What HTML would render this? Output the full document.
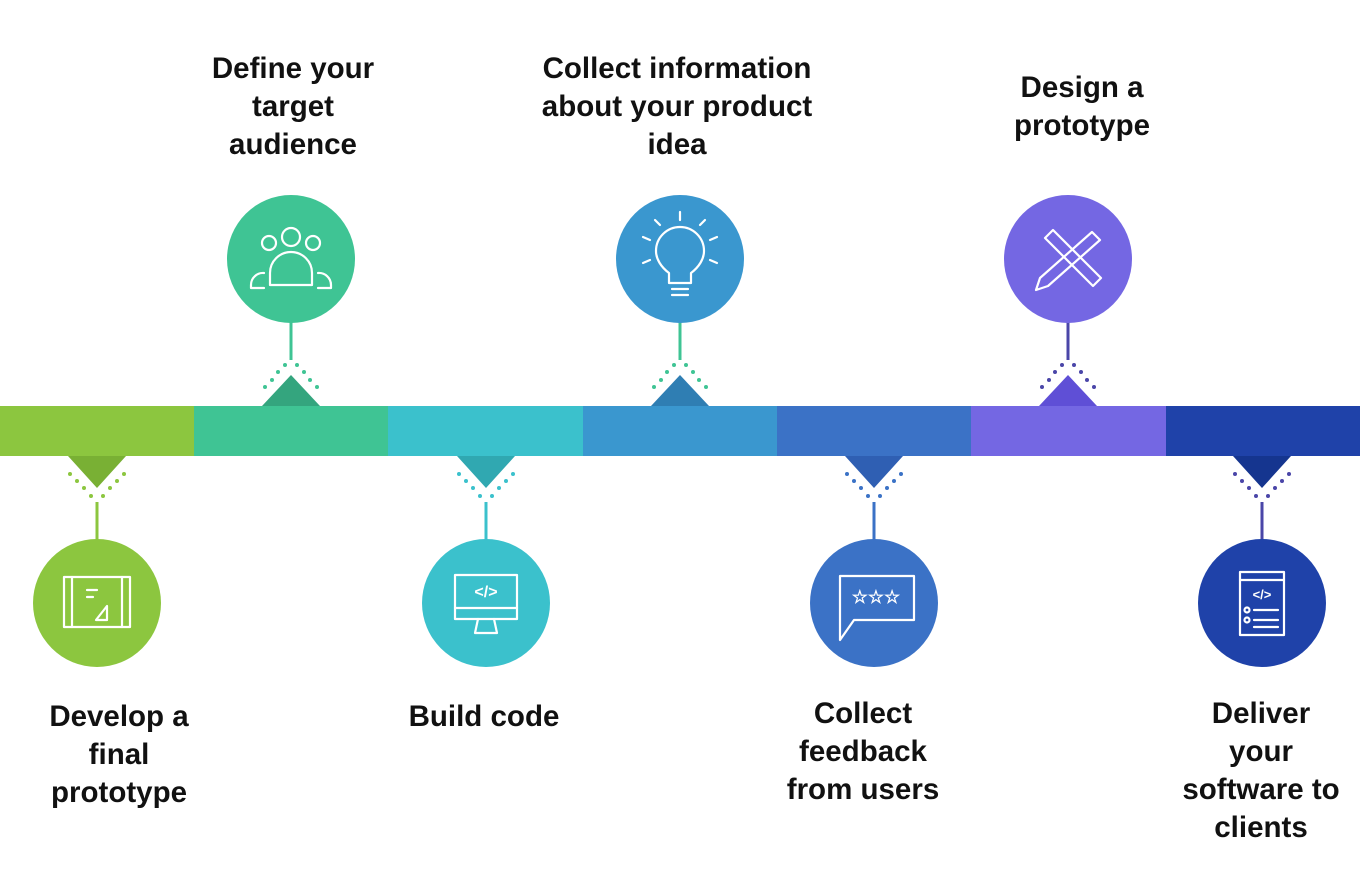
<!DOCTYPE html>
<html><head><meta charset="utf-8"><style>
html,body{margin:0;padding:0;background:#fff}
svg{display:block}
text{font-family:"Liberation Sans",sans-serif;font-weight:bold;font-size:29.5px;fill:#111;text-anchor:middle}
</style></head><body>
<svg width="1360" height="880" viewBox="0 0 1360 880" xmlns="http://www.w3.org/2000/svg">
<rect x="0" y="406" width="195" height="50" fill="#8cc63f"/>
<rect x="194" y="406" width="195" height="50" fill="#3fc494"/>
<rect x="388" y="406" width="196" height="50" fill="#3bc1cc"/>
<rect x="583" y="406" width="195" height="50" fill="#3a97cf"/>
<rect x="777" y="406" width="195" height="50" fill="#3b72c6"/>
<rect x="971" y="406" width="196" height="50" fill="#7467e3"/>
<rect x="1166" y="406" width="194" height="50" fill="#1f42a9"/>
<g fill="none" stroke-width="3">
<polygon points="68,456 126,456 97,488" fill="#79b034" stroke="none"/>
<line x1="97" y1="502" x2="97" y2="540" stroke="#8cc63f"/>
<circle cx="97" cy="603" r="64" fill="#8cc63f" stroke="none"/>
<polygon points="457,456 515,456 486,488" fill="#30a8b1" stroke="none"/>
<line x1="486" y1="502" x2="486" y2="540" stroke="#3bc1cc"/>
<circle cx="486" cy="603" r="64" fill="#3bc1cc" stroke="none"/>
<polygon points="845,456 903,456 874,488" fill="#2f5fb3" stroke="none"/>
<line x1="874" y1="502" x2="874" y2="540" stroke="#3b72c6"/>
<circle cx="874" cy="603" r="64" fill="#3b72c6" stroke="none"/>
<polygon points="1233,456 1291,456 1262,488" fill="#15358f" stroke="none"/>
<line x1="1262" y1="502" x2="1262" y2="540" stroke="#4a46a8"/>
<circle cx="1262" cy="603" r="64" fill="#1f42a9" stroke="none"/>
<polygon points="262,406 320,406 291,375" fill="#34a57e" stroke="none"/>
<line x1="291" y1="322" x2="291" y2="360" stroke="#3fc494"/>
<circle cx="291" cy="259" r="64" fill="#3fc494" stroke="none"/>
<polygon points="651,406 709,406 680,375" fill="#2f7eb3" stroke="none"/>
<line x1="680" y1="322" x2="680" y2="360" stroke="#3fc494"/>
<circle cx="680" cy="259" r="64" fill="#3a97cf" stroke="none"/>
<polygon points="1039,406 1097,406 1068,375" fill="#5f4fd6" stroke="none"/>
<line x1="1068" y1="322" x2="1068" y2="360" stroke="#4a46a8"/>
<circle cx="1068" cy="259" r="64" fill="#7467e3" stroke="none"/>
</g>
<g>
<g fill="#8cc63f"><circle cx="70" cy="474" r="2"/><circle cx="77" cy="481" r="2"/><circle cx="84" cy="488" r="2"/><circle cx="91" cy="496" r="2"/><circle cx="124" cy="474" r="2"/><circle cx="117" cy="481" r="2"/><circle cx="110" cy="488" r="2"/><circle cx="103" cy="496" r="2"/></g>
<g fill="#3bc1cc"><circle cx="459" cy="474" r="2"/><circle cx="466" cy="481" r="2"/><circle cx="473" cy="488" r="2"/><circle cx="480" cy="496" r="2"/><circle cx="513" cy="474" r="2"/><circle cx="506" cy="481" r="2"/><circle cx="499" cy="488" r="2"/><circle cx="492" cy="496" r="2"/></g>
<g fill="#3b72c6"><circle cx="847" cy="474" r="2"/><circle cx="854" cy="481" r="2"/><circle cx="861" cy="488" r="2"/><circle cx="868" cy="496" r="2"/><circle cx="901" cy="474" r="2"/><circle cx="894" cy="481" r="2"/><circle cx="887" cy="488" r="2"/><circle cx="880" cy="496" r="2"/></g>
<g fill="#4a46a8"><circle cx="1235" cy="474" r="2"/><circle cx="1242" cy="481" r="2"/><circle cx="1249" cy="488" r="2"/><circle cx="1256" cy="496" r="2"/><circle cx="1289" cy="474" r="2"/><circle cx="1282" cy="481" r="2"/><circle cx="1275" cy="488" r="2"/><circle cx="1268" cy="496" r="2"/></g>
<g fill="#3fc494"><circle cx="265" cy="387" r="2"/><circle cx="272" cy="380" r="2"/><circle cx="278" cy="372" r="2"/><circle cx="285" cy="365" r="2"/><circle cx="317" cy="387" r="2"/><circle cx="310" cy="380" r="2"/><circle cx="304" cy="372" r="2"/><circle cx="297" cy="365" r="2"/></g>
<g fill="#3fc494"><circle cx="654" cy="387" r="2"/><circle cx="661" cy="380" r="2"/><circle cx="667" cy="372" r="2"/><circle cx="674" cy="365" r="2"/><circle cx="706" cy="387" r="2"/><circle cx="699" cy="380" r="2"/><circle cx="693" cy="372" r="2"/><circle cx="686" cy="365" r="2"/></g>
<g fill="#4a46a8"><circle cx="1042" cy="387" r="2"/><circle cx="1049" cy="380" r="2"/><circle cx="1055" cy="372" r="2"/><circle cx="1062" cy="365" r="2"/><circle cx="1094" cy="387" r="2"/><circle cx="1087" cy="380" r="2"/><circle cx="1081" cy="372" r="2"/><circle cx="1074" cy="365" r="2"/></g>
</g>
<g fill="none" stroke="#fff" stroke-width="2.2" stroke-linejoin="round" stroke-linecap="round">
<rect x="64" y="577" width="66" height="50"/><line x1="72" y1="577" x2="72" y2="627"/><line x1="122" y1="577" x2="122" y2="627"/>
<line x1="87" y1="590" x2="97" y2="590"/><line x1="87" y1="597" x2="93" y2="597"/><polygon points="96,620 107,620 107,606"/>
<circle cx="291" cy="237" r="9"/><circle cx="269" cy="243" r="7"/><circle cx="313" cy="243" r="7"/>
<path d="M270 285 v-12 a21 21 0 0 1 42 0 v12 z"/><path d="M264 273 a12 12 0 0 0 -13 12 v3 h13"/><path d="M318 273 a12 12 0 0 1 13 12 v3 h-13"/>
<rect x="455" y="575" width="62" height="44"/><line x1="455" y1="608" x2="517" y2="608"/><path d="M478 619 l-3 14 h22 l-3 -14"/>
<path d="M669 283 v-10 c-8 -6 -13 -14 -13 -22 a24 24 0 0 1 48 0 c0 8 -5 16 -13 22 v10 z"/><line x1="672" y1="289" x2="688" y2="289"/><line x1="672" y1="295" x2="688" y2="295"/>
<line x1="680" y1="220" x2="680" y2="212"/><line x1="650" y1="240" x2="643" y2="237"/><line x1="710" y1="240" x2="717" y2="237"/><line x1="650" y1="260" x2="643" y2="263"/><line x1="710" y1="260" x2="717" y2="263"/><line x1="660" y1="225" x2="655" y2="220"/><line x1="700" y1="225" x2="705" y2="220"/>
<path d="M840 576 h74 v44 h-60 l-14 20 z"/>
<path d="M1045 238 l8 -8 l48 48 l-8 8 z"/><path d="M1092 232 l8 8 l-52 46 l-12 4 l4 -12 z"/>
<rect x="1240" y="572" width="44" height="63"/><line x1="1240" y1="580" x2="1284" y2="580"/>
<circle cx="1247" cy="610" r="2.5"/><circle cx="1247" cy="620" r="2.5"/><line x1="1254" y1="610" x2="1278" y2="610"/><line x1="1254" y1="620" x2="1278" y2="620"/><line x1="1254" y1="627" x2="1278" y2="627"/>
</g>
<text x="486" y="597" style="fill:#fff;font-size:16px">&lt;/&gt;</text>
<text x="876" y="603" style="fill:#fff;font-size:18px">☆☆☆</text>
<text x="1262" y="599" style="fill:#fff;font-size:13px">&lt;/&gt;</text>
<text x="293" y="78">Define your</text><text x="293" y="116">target</text><text x="293" y="154">audience</text>
<text x="677" y="78">Collect information</text><text x="677" y="116">about your product</text><text x="677" y="154">idea</text>
<text x="1082" y="97">Design a</text><text x="1082" y="135">prototype</text>
<text x="119" y="726">Develop a</text><text x="119" y="764">final</text><text x="119" y="802">prototype</text>
<text x="484" y="726">Build code</text>
<text x="863" y="723">Collect</text><text x="863" y="761">feedback</text><text x="863" y="799">from users</text>
<text x="1261" y="723">Deliver</text><text x="1261" y="761">your</text><text x="1261" y="799">software to</text><text x="1261" y="837">clients</text>
</svg>
</body></html>
